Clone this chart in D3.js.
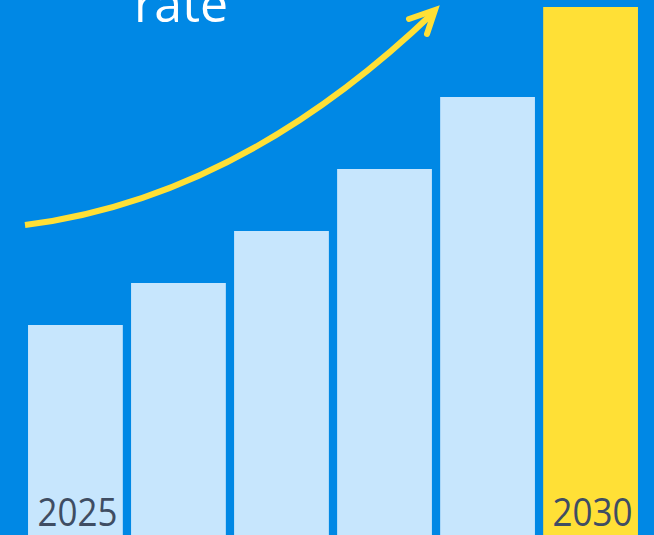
<!DOCTYPE html>
<html>
<head>
<meta charset="utf-8">
<script src="https://cdn.jsdelivr.net/npm/d3@7"></script>
<style>
  html, body { margin: 0; padding: 0; background: #0088e5; overflow: hidden; }
  svg { display: block; }
</style>
</head>
<body>
<svg id="chart" width="654" height="535"></svg>
<script>
// données (hauteur relative des barres, croissance ~20 %/an)
var years = ['2025', '2026', '2027', '2028', '2029', '2030'];
var values = [210, 252, 304, 366, 438, 528];
var shownLabels = ['2025', '2030'];
var titleText = 'rate';

var W = 654, H = 535;
var svg = d3.select('#chart');

svg.append('rect').attr('width', W).attr('height', H).attr('fill', '#0088e5');

// échelles
var x = d3.scaleBand().domain(years).range([27, 639]).paddingInner(0.08).paddingOuter(0.01);
var y = d3.scaleLinear().domain([0, d3.max(values)]).range([H, 7]);

// barres
svg.selectAll('rect.bar')
  .data(years)
  .enter()
  .append('rect')
  .attr('class', 'bar')
  .attr('x', d => x(d))
  .attr('width', x.bandwidth())
  .attr('y', (d, i) => y(values[i]))
  .attr('height', (d, i) => H - y(values[i]))
  .attr('fill', (d, i) => i === years.length - 1 ? '#ffe036' : '#c7e6fd');

// étiquettes des années (premiere et derniere seulement)
svg.selectAll('text.year')
  .data(shownLabels)
  .enter()
  .append('text')
  .attr('class', 'year')
  .attr('x', d => x(d) + x.bandwidth() / 2 + 2)
  .attr('y', 526)
  .attr('text-anchor', 'middle')
  .attr('font-family', 'Open Sans, sans-serif')
  .attr('font-size', 38)
  .attr('textLength', 80)
  .attr('lengthAdjust', 'spacingAndGlyphs')
  .attr('fill', '#3f4d63')
  .text(d => d);

// titre coupé en haut
svg.append('text')
  .attr('x', 181)
  .attr('y', 22)
  .attr('text-anchor', 'middle')
  .attr('font-family', 'Open Sans, sans-serif')
  .attr('font-size', 50)
  .attr('fill', '#ffffff')
  .text(titleText);

// flèche de croissance
var curve = d3.path();
curve.moveTo(25, 225);
curve.quadraticCurveTo(240, 198, 434, 12);
svg.append('path')
  .attr('d', curve.toString())
  .attr('fill', 'none')
  .attr('stroke', '#ffe036')
  .attr('stroke-width', 6)
  .attr('stroke-linecap', 'butt');

var head = d3.path();
head.moveTo(409, 19);
head.lineTo(435, 10);
head.lineTo(427, 34);
svg.append('path')
  .attr('d', head.toString())
  .attr('fill', 'none')
  .attr('stroke', '#ffe036')
  .attr('stroke-width', 6)
  .attr('stroke-linecap', 'round')
  .attr('stroke-linejoin', 'miter');
</script>
</body>
</html>
